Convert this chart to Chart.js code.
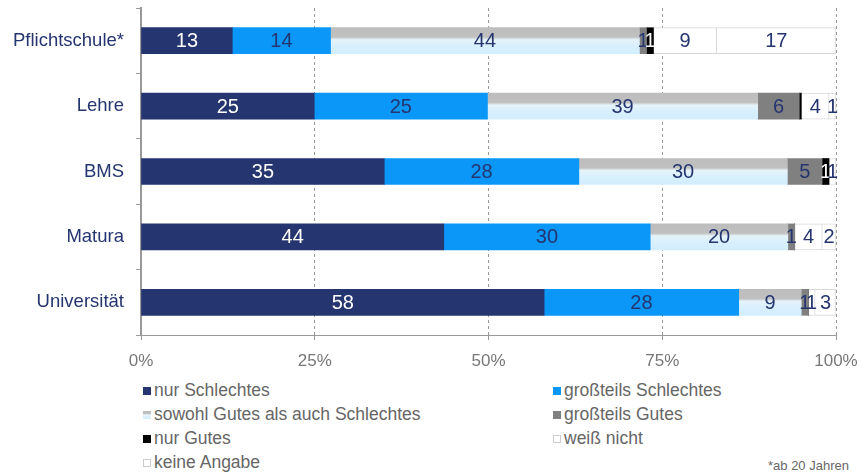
<!DOCTYPE html>
<html>
<head>
<meta charset="utf-8">
<script src="https://cdn.jsdelivr.net/npm/chart.js@4"></script>
<style>
  body { margin: 0; background: #fff; font-family: "Liberation Sans", Arial, sans-serif; }
  #wrap { position: relative; width: 866px; height: 475px; }
  #chart { position: absolute; left: 0; top: 0; }
  .leg { position: absolute; font-size: 17.5px; color: #666; line-height: 18px; white-space: nowrap; }
  .leg i { display: inline-block; width: 8px; height: 8px; margin-right: 3px; vertical-align: 1px; box-sizing: border-box; }
  #note { position: absolute; left: 768px; top: 458px; font-size: 13px; color: #666; }
</style>
</head>
<body>
<div id="wrap">
  <canvas id="chart" width="866" height="375"></canvas>
  <div id="legend"></div>
  <div id="note">*ab 20 Jahren</div>
</div>
<script>
const categories = ['Pflichtschule*', 'Lehre', 'BMS', 'Matura', 'Universität'];
const seriesNames = ['nur Schlechtes', 'großteils Schlechtes', 'sowohl Gutes als auch Schlechtes',
  'großteils Gutes', 'nur Gutes', 'weiß nicht', 'keine Angabe'];
const nurSchlechtes = [13, 25, 35, 44, 58];
const grossteilsSchlechtes = [14, 25, 28, 30, 28];
const sowohlAlsAuch = [44, 39, 30, 20, 9];
const grossteilsGutes = [1, 6, 5, 1, 1];
const nurGutes = [1, 0.3, 1, 0, 0];
const weissNicht = [9, 4, 1, 4, 1];
const keineAngabe = [17, 1, 0, 2, 3];
const xTicks = [0, 25, 50, 75, 100];

const raw = [nurSchlechtes, grossteilsSchlechtes, sowohlAlsAuch, grossteilsGutes, nurGutes, weissNicht, keineAngabe];
const colors = ['#253570', '#0a97f7', null, '#808080', '#000000', '#ffffff', '#ffffff'];
const labelColors = ['#ffffff', '#253570', '#253570', '#253570', '#ffffff', '#253570', '#253570'];

// row totals, bars are shown as 100%
const totals = categories.map((c, i) => raw.reduce((s, arr) => s + arr[i], 0));

function mixedFill(ctx) {
  const chart = ctx.chart;
  const y = chart.scales.y;
  const cy = y ? y.getPixelForValue(ctx.dataIndex) : NaN;
  if (!Number.isFinite(cy)) return '#c8dce8';
  const g = chart.ctx.createLinearGradient(0, cy - 13, 0, cy + 13);
  g.addColorStop(0, '#bdbdbd');
  g.addColorStop(0.36, '#c0c0c0');
  g.addColorStop(0.46, '#e6f3fa');
  g.addColorStop(0.7, '#d8f0fd');
  g.addColorStop(1, '#d2edff');
  return g;
}

const datasets = raw.map((arr, k) => ({
  label: seriesNames[k],
  data: arr.map((v, i) => v / totals[i] * 100),
  rawValues: arr,
  backgroundColor: k === 2 ? mixedFill : colors[k],
  borderColor: k >= 5 ? '#d8d8d8' : 'transparent',
  borderWidth: k >= 5 ? 1 : 0,
  barThickness: 26,
  labelColor: labelColors[k]
}));

const valueLabels = {
  id: 'valueLabels',
  afterDatasetsDraw(chart) {
    const c = chart.ctx;
    c.save();
    c.font = '20px "Liberation Sans", Arial, sans-serif';
    c.textAlign = 'center';
    c.textBaseline = 'middle';
    chart.data.datasets.forEach((ds, k) => {
      chart.getDatasetMeta(k).data.forEach((el, i) => {
        const v = ds.rawValues[i];
        if (v < 0.5) return;
        const p = el.getCenterPoint();
        c.fillStyle = ds.labelColor;
        c.fillText(String(v), p.x, p.y + 1);
      });
    });
    c.restore();
  }
};

new Chart(document.getElementById('chart'), {
  type: 'bar',
  data: { labels: categories, datasets: datasets },
  options: {
    indexAxis: 'y',
    responsive: false,
    animation: false,
    layout: { padding: { top: 8, right: 30, left: 0, bottom: 0 } },
    plugins: { legend: { display: false }, tooltip: { enabled: false } },
    scales: {
      x: {
        stacked: true,
        min: 0, max: 100,
        afterBuildTicks(s) { s.ticks = xTicks.map(v => ({ value: v })); },
        afterFit(s) { s.height = 40; s.paddingLeft = 0; s.paddingRight = 0; },
        ticks: { color: '#777', font: { size: 17, family: '"Liberation Sans", Arial' }, padding: 11,
          callback: v => v + '%' },
        grid: { color: '#999', lineWidth: 1, tickLength: 5, drawOnChartArea: true },
        border: { display: true, color: '#999', dash: [3, 3] }
      },
      y: {
        stacked: true,
        afterFit(s) { s.width = 141; s.paddingTop = 0; s.paddingBottom = 0; },
        ticks: { color: '#253570', font: { size: 18.5, family: '"Liberation Sans", Arial' }, padding: 12 },
        grid: { offset: true, drawOnChartArea: false, tickLength: 5, color: '#999' },
        border: { display: true, color: '#999', width: 2 }
      }
    }
  },
  plugins: [valueLabels]
});

// legend in two columns
const legendPos = [[143, 381], [553, 381], [143, 405], [553, 405], [143, 429], [553, 429], [143, 453]];
const swatch = [
  'background:#253570', 'background:#0a97f7',
  'background:linear-gradient(#bdbdbd 0%, #c0c0c0 36%, #e6f3fa 46%, #d2edff 100%)',
  'background:#808080', 'background:#000', 'background:#fff;border:1px solid #ccc',
  'background:#fff;border:1px solid #ccc'
];
const legend = document.getElementById('legend');
seriesNames.forEach((name, k) => {
  const d = document.createElement('div');
  d.className = 'leg';
  d.style.left = legendPos[k][0] + 'px';
  d.style.top = legendPos[k][1] + 'px';
  d.innerHTML = '<i style="' + swatch[k] + '"></i>' + name;
  legend.appendChild(d);
});
</script>
</body>
</html>
